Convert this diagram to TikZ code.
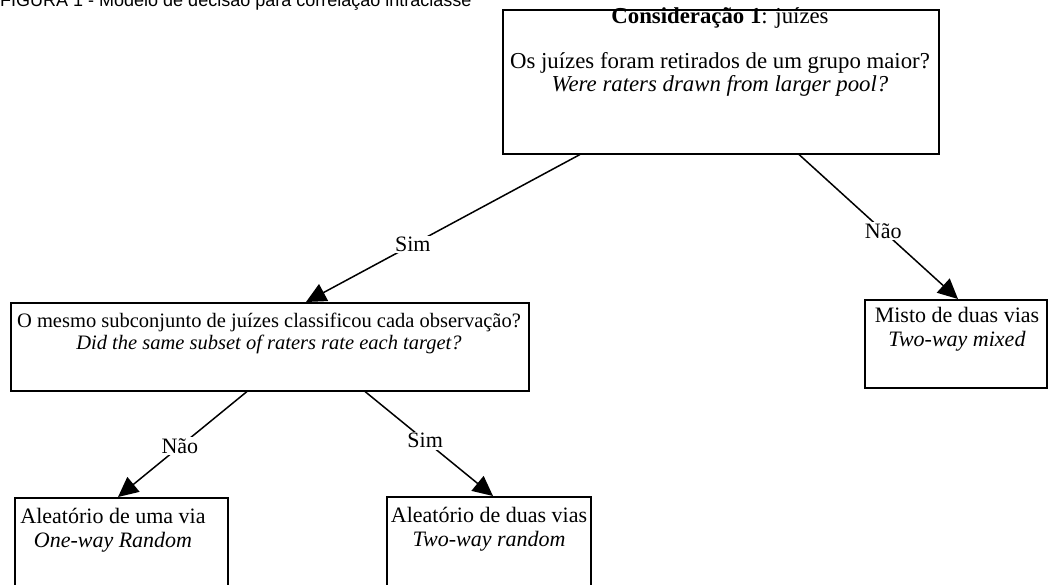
\documentclass[tikz,border=0pt]{standalone}
\usepackage{fontspec}
\setmainfont{Liberation Serif}
\newfontfamily\hdrfont{Liberation Sans}
\usetikzlibrary{arrows.meta,calc}
\begin{document}
\begin{tikzpicture}[x=1pt,y=1pt,
  box/.style={draw,line width=1.5pt,anchor=north west,inner sep=0pt},
  arr/.style={line width=1.5pt,-{Triangle[length=20pt,width=19pt]}},
  lbl/.style={fill=white,inner sep=1.5pt,font=\fontsize{22}{24}\selectfont},
  big/.style={font=\fontsize{22.8}{23}\selectfont,align=center,inner sep=0pt},
  midf/.style={font=\fontsize{20.5}{22}\selectfont,align=center,inner sep=0pt},
  leaf/.style={font=\fontsize{22}{24}\selectfont,align=center,inner sep=0pt},
]
\useasboundingbox (0,0) rectangle (1052,-584);
\clip (0,0) rectangle (1052,-584);
\node[anchor=base west,inner sep=0pt,font=\hdrfont\fontsize{18}{20}\selectfont] (hdr) at (0,-6.5) {FIGURA 1 - Modelo de decisão para correlação intraclasse};

\node[box,minimum width=436pt,minimum height=144pt] (top) at (502,-9) {};
\node[box,minimum width=518pt,minimum height=88pt] (mid) at (10,-302) {};
\node[box,minimum width=182pt,minimum height=88pt] (misto) at (864,-299) {};
\node[box,minimum width=213pt,minimum height=120pt] (bl) at (14,-497) {};
\node[box,minimum width=204pt,minimum height=120pt] (bm) at (386,-496) {};

\node[big] (t1) at (720,-18) {\textbf{Consideração 1}: juízes};
\node[big] (t2) at (720,-74) {Os juízes foram retirados de um grupo maior?\\ \textit{Were raters drawn from larger pool?}};
\node[midf] (t3) at (269,-333) {O mesmo subconjunto de juízes classificou cada observação?\\ \textit{Did the same subset of raters rate each target?}};
\node[leaf] (t4) at (957,-329) {Misto de duas vias\\ \textit{Two-way mixed}};
\node[leaf] (t5) at (113,-530) {Aleatório de uma via\\ \textit{One-way Random}};
\node[leaf] (t6) at (489,-529.5) {Aleatório de duas vias\\ \textit{Two-way random}};

\draw[arr] ([xshift=78pt]top.south west) -- node[lbl,pos=0.61] (l1) {Sim} ([xshift=296pt]mid.north west);
\draw[arr] ([xshift=297pt]top.south west) -- node[lbl,pos=0.53] (l2) {Não} ([xshift=94pt]misto.north west);
\draw[arr] ([xshift=237pt]mid.south west) -- node[lbl,pos=0.52] (l3) {Não} ([xshift=104pt]bl.north west);
\draw[arr] ([xshift=355pt]mid.south west) -- node[lbl,pos=0.47] (l4) {Sim} ([xshift=107pt]bm.north west);
\end{tikzpicture}
\end{document}
